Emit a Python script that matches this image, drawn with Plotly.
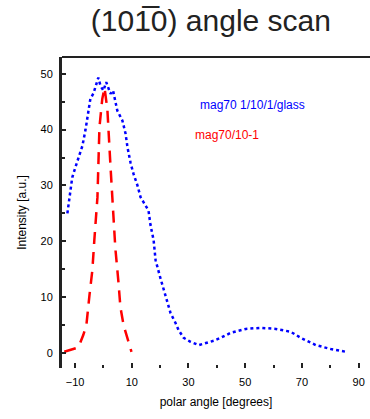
import plotly.graph_objects as go

# Blue series (wide scan)
blue_x = [-12.7, -12.0, -11.7, -11.0, -9.9, -8.8, -7.4, -6.3, -5.3, -4.6, -3.5, -2.8, -1.8, -1.0,
          0.0, 1.0, 2.5, 3.4, 4.2, 4.9, 5.8, 6.7, 7.8, 8.5, 9.6, 10.6, 12.0, 13.1, 15.9, 16.6,
          17.7, 18.4, 20.1, 21.2, 22.6, 23.7, 25.4, 26.5, 28.3, 30.7, 33.6, 36.7, 39.0, 41.3,
          44.9, 50.2, 55.5, 60.8, 66.0, 69.6, 74.9, 80.2, 85.5]
blue_y = [25.0, 27.9, 28.8, 31.4, 33.2, 35.0, 37.1, 40.0, 42.9, 45.5, 46.5, 47.5, 49.3, 47.8,
          47.0, 48.5, 46.4, 47.0, 45.2, 43.4, 42.5, 41.6, 39.3, 36.8, 34.0, 32.1, 30.0, 27.9, 25.5, 22.9,
          20.2, 16.6, 13.4, 11.6, 8.9, 7.1, 5.4, 4.1, 2.7, 2.0, 1.4, 1.8, 2.2, 2.7,
          3.6, 4.3, 4.5, 4.3, 3.8, 2.7, 1.4, 0.7, 0.2]

# Red series (narrow scan)
red_x = [-13.8, -8.8, -7.1, -6.0, -4.9, -3.9, -3.2, -2.1, -1.4, -0.4, 0.4, 1.4, 2.5, 3.2,
         4.2, 5.3, 6.0, 7.1, 8.5, 9.2, 9.9]
red_y = [0.2, 1.0, 3.2, 5.0, 10.4, 14.8, 20.2, 27.9, 40.4, 45.5, 47.5, 43.6, 33.4, 27.7,
         18.8, 12.7, 8.2, 5.0, 2.7, 1.4, 0.2]

x_ticks = [-10, 10, 30, 50, 70, 90]
y_ticks = [0, 10, 20, 30, 40, 50]

blue_label = "mag70 1/10/1/glass"
red_label = "mag70/10-1"

fig = go.Figure()
fig.add_trace(go.Scatter(x=blue_x, y=blue_y, mode="lines",
                         line=dict(color="#0000ff", width=2.5, dash="dot"),
                         showlegend=False))
fig.add_trace(go.Scatter(x=red_x, y=red_y, mode="lines",
                         line=dict(color="#ff0000", width=2.5, dash="12px,8px"),
                         showlegend=False))

fig.update_layout(
    width=370, height=419,
    margin=dict(l=62, r=0, t=57, b=51),
    paper_bgcolor="white", plot_bgcolor="white",
    font=dict(family="Liberation Sans, Arial, sans-serif", color="black"),
    title=dict(text="(101\u03050) angle scan", x=0.57, xanchor="center",
               y=0.975, yanchor="top",
               font=dict(size=30, color="#222")),
    xaxis=dict(range=[-14.6, 94], tickvals=x_ticks, ticks="inside", ticklen=5,
               tickwidth=2, tickcolor="#222", showgrid=False, zeroline=False,
               showline=False, tickfont=dict(size=11), ticklabelstandoff=6,
               minor=dict(tickvals=[0, 20, 40, 60, 80], ticks="inside", ticklen=3,
                          tickwidth=2, tickcolor="#222"),
               title=dict(text="polar angle [degrees]", font=dict(size=12), standoff=10)),
    yaxis=dict(range=[-2.7, 53], tickvals=y_ticks, ticks="inside", ticklen=4,
               tickwidth=2, tickcolor="#222", showgrid=False, zeroline=False,
               showline=True, linecolor="#222", linewidth=3,
               tickfont=dict(size=11), ticklabelstandoff=4,
               minor=dict(tickvals=[5, 15, 25, 35, 45], ticks="inside", ticklen=3,
                          tickwidth=2, tickcolor="#222"),
               title=dict(text="Intensity [a.u.]", font=dict(size=12), standoff=12)),
)

fig.add_shape(type="line", xref="paper", yref="paper", x0=0, x1=1, y0=1, y1=1,
              line=dict(color="#222", width=2))

fig.add_annotation(text=blue_label, xref="paper", yref="paper", x=0.44, y=0.845,
                   xanchor="left", yanchor="middle", showarrow=False,
                   font=dict(size=12, color="#0000ff"))
fig.add_annotation(text=red_label, xref="paper", yref="paper", x=0.425, y=0.75,
                   xanchor="left", yanchor="middle", showarrow=False,
                   font=dict(size=12, color="#ff0000"))

fig.write_html("out.html")
